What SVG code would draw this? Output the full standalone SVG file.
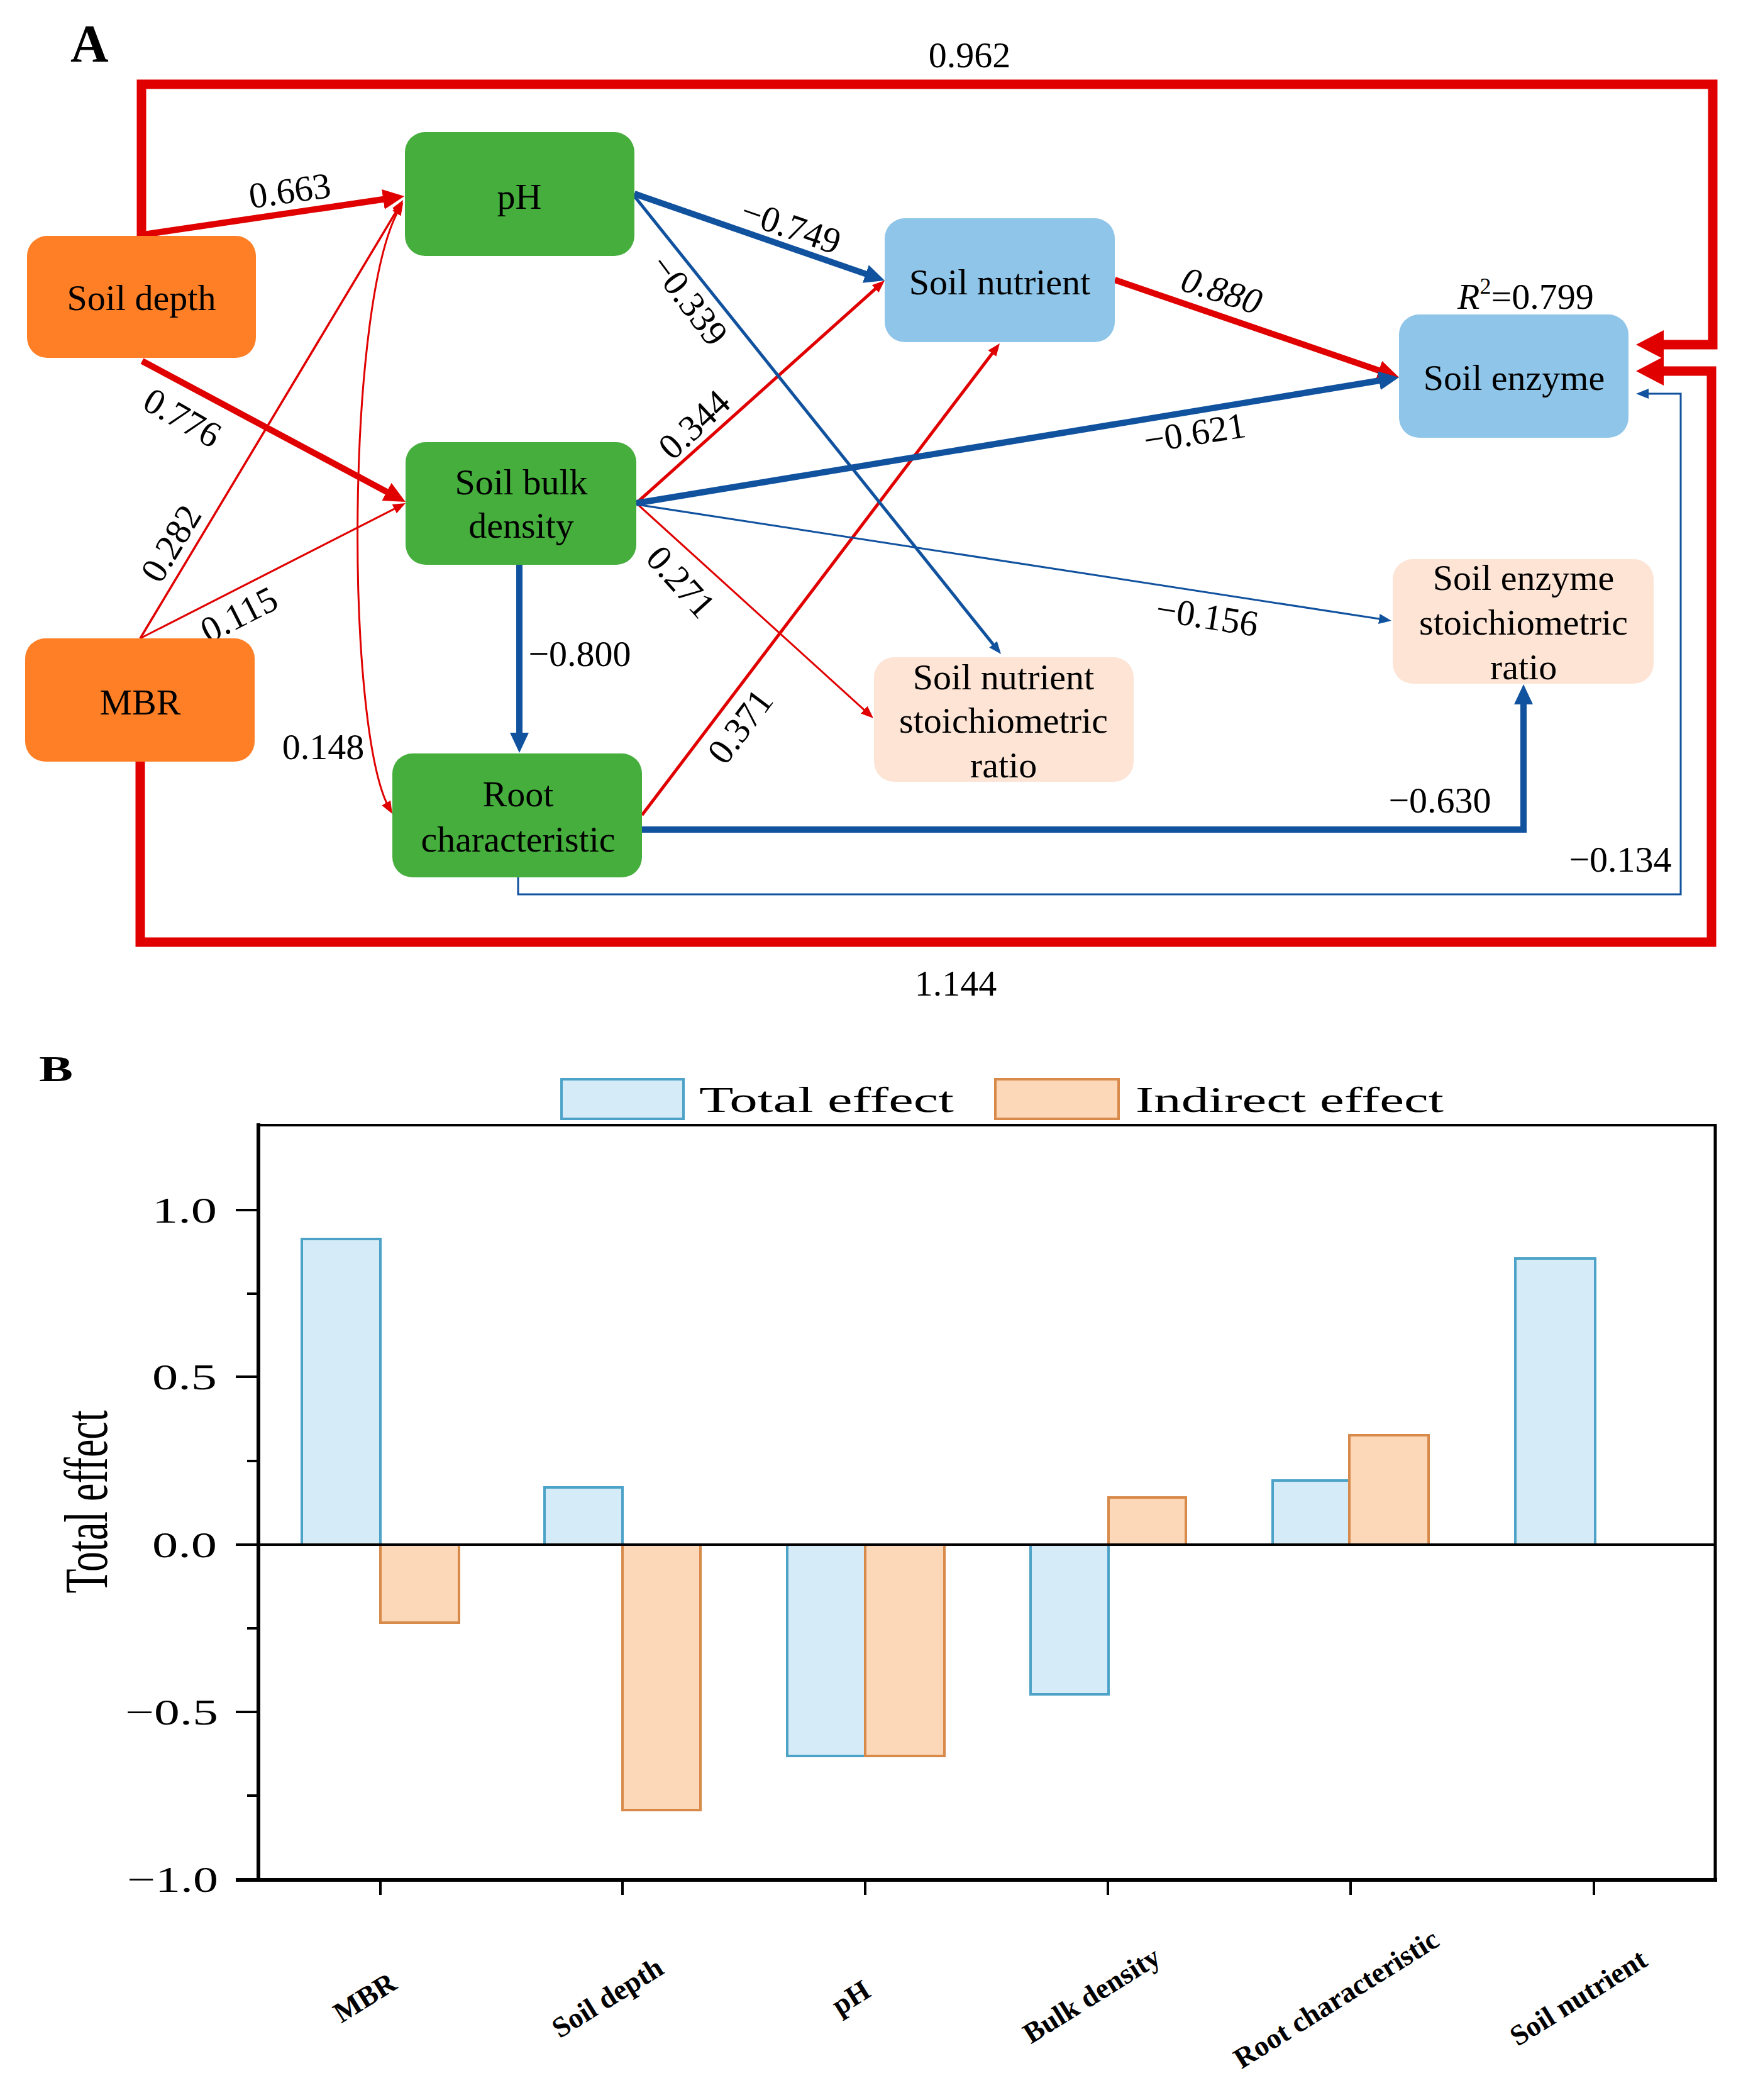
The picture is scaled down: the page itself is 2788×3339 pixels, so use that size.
<svg xmlns="http://www.w3.org/2000/svg" width="2788" height="3339" viewBox="0 0 2788 3339">
<style>
  .t { font-family: "Liberation Serif", "Times New Roman", serif; fill: #000; }
  .node-text { font-size: 58px; text-anchor: middle; }
  .lab { font-size: 58px; text-anchor: middle; }
  .red { stroke: #E00000; fill: none; }
  .blue { stroke: #11529F; fill: none; }
  .orange { fill: #FE7F26; }
  .green { fill: #45AE3C; }
  .lblue { fill: #8EC5E8; }
  .peach { fill: #FDE4D5; }
  .tot { fill: #D5ECF8; stroke: #4DA3C7; stroke-width: 4; }
  .ind { fill: #FDD8B8; stroke: #D88A4B; stroke-width: 4; }
  .axis { stroke: #000; fill: none; }
  .xl { font-size: 46px; font-weight: bold; text-anchor: middle; }
  .yl { font-size: 58px; text-anchor: end; }
</style>
<defs>
  <marker id="mRB" markerUnits="userSpaceOnUse" viewBox="0 0 34 32" markerWidth="34" markerHeight="32" refX="20" refY="16" orient="auto"><path d="M0,0 L34,16 L0,32 z" fill="#E00000"/></marker>
  <marker id="mRF" markerUnits="userSpaceOnUse" viewBox="0 0 44 46" markerWidth="44" markerHeight="46" refX="26" refY="23" orient="auto"><path d="M0,0 L44,23 L0,46 z" fill="#E00000"/></marker>
  <marker id="mRS" markerUnits="userSpaceOnUse" viewBox="0 0 20 16" markerWidth="20" markerHeight="16" refX="12" refY="8" orient="auto"><path d="M0,0 L20,8 L0,16 z" fill="#E00000"/></marker>
  <marker id="mRSs" markerUnits="userSpaceOnUse" viewBox="0 0 20 16" markerWidth="20" markerHeight="16" refX="12" refY="8" orient="auto-start-reverse"><path d="M0,0 L20,8 L0,16 z" fill="#E00000"/></marker>
  <marker id="mBB" markerUnits="userSpaceOnUse" viewBox="0 0 32 30" markerWidth="32" markerHeight="30" refX="18" refY="15" orient="auto"><path d="M0,0 L32,15 L0,30 z" fill="#11529F"/></marker>
  <marker id="mBS" markerUnits="userSpaceOnUse" viewBox="0 0 20 16" markerWidth="20" markerHeight="16" refX="12" refY="8" orient="auto"><path d="M0,0 L20,8 L0,16 z" fill="#11529F"/></marker>
</defs>
<rect x="0" y="0" width="2788" height="3339" fill="#fff"/>

<!-- Panel A -->
<text class="t" x="112" y="98" font-size="84" font-weight="bold">A</text>

<g id="connectors">
  <!-- outer frame arrows -->
  <path class="red" stroke-width="15" d="M225,375 V134 H2724 V548 H2620" marker-end="url(#mRF)"/>
  <path class="red" stroke-width="15" d="M223,1211 V1498 H2722 V590 H2620" marker-end="url(#mRF)"/>
  <!-- red edges -->
  <line class="red" stroke-width="10" x1="228" y1="373" x2="629.2" y2="314" marker-end="url(#mRB)"/>
  <line class="red" stroke-width="10" x1="226" y1="574" x2="632.6" y2="791.4" marker-end="url(#mRB)"/>
  <line class="red" stroke-width="3.5" x1="223" y1="1015" x2="636.9" y2="324.9" marker-end="url(#mRS)"/>
  <line class="red" stroke-width="3" x1="223" y1="1015" x2="637.9" y2="803.6" marker-end="url(#mRS)"/>
  <path class="red" stroke-width="3" d="M637,329 C550,470 548,1160 620,1287" marker-start="url(#mRSs)" marker-end="url(#mRS)"/>
  <line class="red" stroke-width="5" x1="1012" y1="800" x2="1401" y2="451.3" marker-end="url(#mRS)"/>
  <line class="red" stroke-width="3" x1="1012" y1="800" x2="1383.1" y2="1136.6" marker-end="url(#mRS)"/>
  <line class="red" stroke-width="5" x1="1021" y1="1296" x2="1585.2" y2="552.4" marker-end="url(#mRS)"/>
  <line class="red" stroke-width="10" x1="1773" y1="445" x2="2211.8" y2="595.5" marker-end="url(#mRB)"/>
  <!-- blue edges -->
  <line class="blue" stroke-width="10" x1="1009" y1="308" x2="1393.8" y2="441.4" marker-end="url(#mBB)"/>
  <line class="blue" stroke-width="5" x1="1009" y1="312" x2="1587" y2="1033.8" marker-end="url(#mBS)"/>
  <line class="blue" stroke-width="10" x1="1012" y1="800" x2="2211.2" y2="602.3" marker-end="url(#mBB)"/>
  <line class="blue" stroke-width="3" x1="1012" y1="802" x2="2205.1" y2="985.8" marker-end="url(#mBS)"/>
  <line class="blue" stroke-width="10" x1="826" y1="898" x2="826" y2="1183" marker-end="url(#mBB)"/>
  <path class="blue" stroke-width="10" d="M1021,1319 H2423 V1102" marker-end="url(#mBB)"/>
  <path class="blue" stroke-width="3" d="M824,1395 V1422 H2673 V626 H2610" marker-end="url(#mBS)"/>

  <!-- edge labels -->
  <text class="t lab" x="1542" y="107">0.962</text>
  <text class="t lab" x="1520" y="1583">1.144</text>
  <text class="t lab" transform="translate(461,303) rotate(-8)" dominant-baseline="central">0.663</text>
  <text class="t lab" transform="translate(290,664) rotate(30)" dominant-baseline="central">0.776</text>
  <text class="t lab" transform="translate(272,864) rotate(-59)" dominant-baseline="central">0.282</text>
  <text class="t lab" transform="translate(380,977) rotate(-27)" dominant-baseline="central">0.115</text>
  <text class="t lab" x="514" y="1207">0.148</text>
  <text class="t lab" transform="translate(1258,360) rotate(19)" dominant-baseline="central">−0.749</text>
  <text class="t lab" transform="translate(1096,477) rotate(53)" dominant-baseline="central">−0.339</text>
  <text class="t lab" transform="translate(1104,675) rotate(-43)" dominant-baseline="central">0.344</text>
  <text class="t lab" transform="translate(1900,688) rotate(-9)" dominant-baseline="central">−0.621</text>
  <text class="t lab" transform="translate(1920,980) rotate(9)" dominant-baseline="central">−0.156</text>
  <text class="t lab" transform="translate(1083,925) rotate(48)" dominant-baseline="central">0.271</text>
  <text class="t lab" x="922" y="1059">−0.800</text>
  <text class="t lab" transform="translate(1177,1155) rotate(-53)" dominant-baseline="central">0.371</text>
  <text class="t lab" x="2290" y="1292">−0.630</text>
  <text class="t lab" x="2577" y="1386">−0.134</text>
  <text class="t lab" transform="translate(1943,462) rotate(18)" dominant-baseline="central" font-style="italic">0.880</text>
</g>

<g id="node-soil-depth">
  <rect class="orange" x="43" y="375" width="364" height="194" rx="32"/>
  <text class="t node-text" x="225" y="493">Soil depth</text>
</g>
<g id="node-mbr">
  <rect class="orange" x="40" y="1015" width="365" height="196" rx="32"/>
  <text class="t node-text" x="223" y="1136">MBR</text>
</g>
<g id="node-ph">
  <rect class="green" x="644" y="210" width="365" height="197" rx="32"/>
  <text class="t node-text" x="826" y="332">pH</text>
</g>
<g id="node-bulk-density">
  <rect class="green" x="645" y="703" width="367" height="195" rx="32"/>
  <text class="t node-text" x="829" y="786">Soil bulk</text>
  <text class="t node-text" x="829" y="855">density</text>
</g>
<g id="node-root">
  <rect class="green" x="624" y="1198" width="397" height="197" rx="32"/>
  <text class="t node-text" x="824" y="1282">Root</text>
  <text class="t node-text" x="824" y="1354">characteristic</text>
</g>
<g id="node-soil-nutrient">
  <rect class="lblue" x="1407" y="347" width="366" height="197" rx="32"/>
  <text class="t node-text" x="1590" y="468">Soil nutrient</text>
</g>
<g id="node-soil-enzyme">
  <rect class="lblue" x="2225" y="500" width="365" height="196" rx="32"/>
  <text class="t node-text" x="2408" y="620">Soil enzyme</text>
  <text class="t" x="2318" y="491" font-size="58"><tspan font-style="italic">R</tspan><tspan font-size="36" dy="-24">2</tspan><tspan dy="24">=0.799</tspan></text>
</g>
<g id="node-nutrient-ratio">
  <rect class="peach" x="1390" y="1045" width="413" height="198" rx="32"/>
  <text class="t node-text" x="1596" y="1096">Soil nutrient</text>
  <text class="t node-text" x="1596" y="1165">stoichiometric</text>
  <text class="t node-text" x="1596" y="1236">ratio</text>
</g>
<g id="node-enzyme-ratio">
  <rect class="peach" x="2215" y="889" width="415" height="198" rx="32"/>
  <text class="t node-text" x="2423" y="938">Soil enzyme</text>
  <text class="t node-text" x="2423" y="1009">stoichiometric</text>
  <text class="t node-text" x="2423" y="1080">ratio</text>
</g>

<!-- Panel B -->
<g id="panel-b">
  <text class="t" x="62" y="1719" font-size="58" font-weight="bold" textLength="54" lengthAdjust="spacingAndGlyphs">B</text>
  <!-- legend -->
  <rect class="tot" x="893" y="1716" width="194" height="63"/>
  <text class="t" x="1112" y="1768" font-size="58" textLength="405" lengthAdjust="spacingAndGlyphs">Total effect</text>
  <rect class="ind" x="1583" y="1716" width="196" height="63"/>
  <text class="t" x="1806" y="1768" font-size="58" textLength="490" lengthAdjust="spacingAndGlyphs">Indirect effect</text>

  <!-- bars -->
  <rect class="tot" x="480" y="1970" width="125" height="486"/>
  <rect class="ind" x="605" y="2456" width="125" height="124"/>
  <rect class="tot" x="866" y="2365" width="124" height="91"/>
  <rect class="ind" x="990" y="2456" width="124" height="422"/>
  <rect class="tot" x="1252" y="2456" width="124" height="336"/>
  <rect class="ind" x="1376" y="2456" width="126" height="336"/>
  <rect class="tot" x="1639" y="2456" width="124" height="238"/>
  <rect class="ind" x="1763" y="2381" width="123" height="75"/>
  <rect class="tot" x="2024" y="2354" width="122" height="102"/>
  <rect class="ind" x="2146" y="2282" width="126" height="174"/>
  <rect class="tot" x="2410" y="2001" width="127" height="455"/>

  <!-- frame and axes -->
  <line class="axis" stroke-width="4" x1="411" y1="1789" x2="2728" y2="1789"/>
  <line class="axis" stroke-width="5" x1="2728" y1="1787" x2="2728" y2="2990"/>
  <line class="axis" stroke-width="4" x1="411" y1="2456" x2="2728" y2="2456"/>
  <line class="axis" stroke-width="6" x1="375" y1="2989" x2="2731" y2="2989"/>
  <line class="axis" stroke-width="6" x1="411" y1="1786" x2="411" y2="2992"/>
  <!-- y ticks -->
  <path class="axis" stroke-width="4" d="M375,1924 H411 M375,2189 H411 M375,2456 H411 M375,2722 H411 M393,2057 H411 M393,2323 H411 M393,2589 H411 M393,2855 H411"/>
  <!-- x ticks -->
  <path class="axis" stroke-width="4" d="M605,2989 V3013 M990,2989 V3013 M1376,2989 V3013 M1762,2989 V3013 M2148,2989 V3013 M2535,2989 V3013"/>
  <!-- y tick labels -->
  <text class="t yl" x="345" y="1944" textLength="103" lengthAdjust="spacingAndGlyphs">1.0</text>
  <text class="t yl" x="345" y="2209" textLength="103" lengthAdjust="spacingAndGlyphs">0.5</text>
  <text class="t yl" x="345" y="2476" textLength="103" lengthAdjust="spacingAndGlyphs">0.0</text>
  <text class="t yl" x="347" y="2742" textLength="148" lengthAdjust="spacingAndGlyphs">−0.5</text>
  <text class="t yl" x="347" y="3008" textLength="145" lengthAdjust="spacingAndGlyphs">−1.0</text>
  <!-- y title -->
  <text class="t" transform="translate(170,2388) rotate(-90)" font-size="98" text-anchor="middle" textLength="291" lengthAdjust="spacingAndGlyphs">Total effect</text>
  <!-- x labels -->
  <text class="t xl" transform="translate(580,3176) rotate(-32)" dominant-baseline="central">MBR</text>
  <text class="t xl" transform="translate(966,3176) rotate(-32)" dominant-baseline="central">Soil depth</text>
  <text class="t xl" transform="translate(1353,3176) rotate(-32)" dominant-baseline="central">pH</text>
  <text class="t xl" transform="translate(1736,3172) rotate(-32)" dominant-baseline="central">Bulk density</text>
  <text class="t xl" transform="translate(2125,3178) rotate(-32)" dominant-baseline="central">Root characteristic</text>
  <text class="t xl" transform="translate(2510,3176) rotate(-32)" dominant-baseline="central">Soil nutrient</text>
</g>
</svg>
